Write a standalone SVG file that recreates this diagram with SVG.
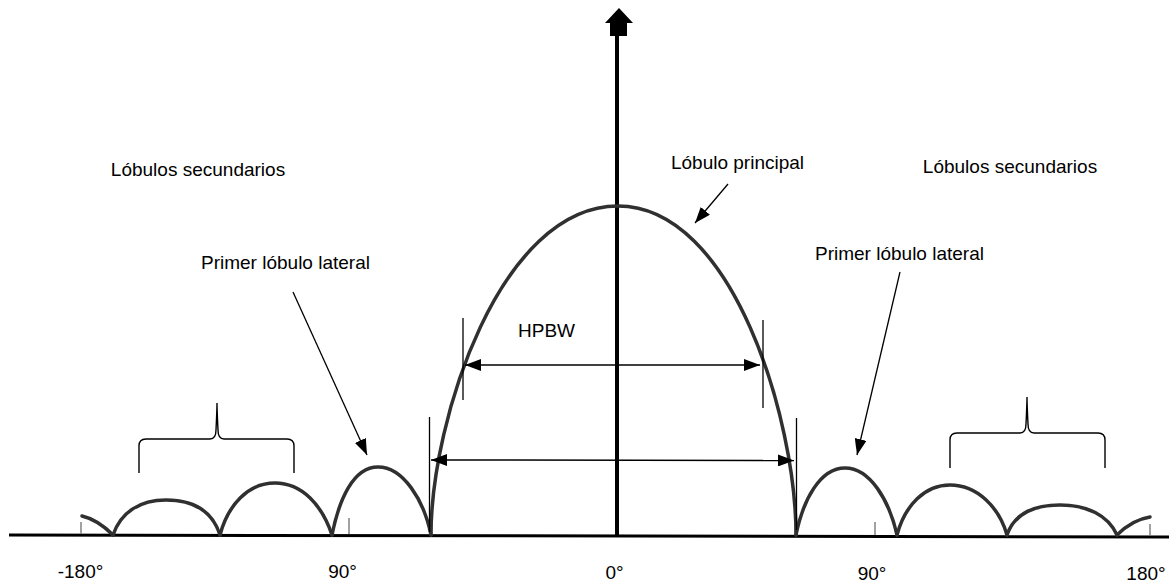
<svg xmlns="http://www.w3.org/2000/svg" width="1169" height="582" viewBox="0 0 1169 582">
<style>
text{font-family:"Liberation Sans",Arial,sans-serif;font-size:19px;fill:#000}
.lobe{fill:none;stroke:#303030;stroke-width:3.5;stroke-linejoin:round;stroke-linecap:round}
.tick{stroke:#8a8a8a;stroke-width:1.6}
.thin{stroke:#000;stroke-width:1.3;fill:none}
.dim{stroke:#000;stroke-width:1.5;fill:none}
.brace{stroke:#000;stroke-width:1.4;fill:none}
</style>
<defs>
<marker id="ah" viewBox="0 0 16 12" refX="16" refY="6" markerWidth="16" markerHeight="12" markerUnits="userSpaceOnUse" orient="auto">
<path d="M0,0 L16,6 L0,12 Z" fill="#000"/>
</marker>
<marker id="ahs" viewBox="0 0 16 12" refX="16" refY="6" markerWidth="16" markerHeight="12" markerUnits="userSpaceOnUse" orient="auto-start-reverse">
<path d="M0,0 L16,6 L0,12 Z" fill="#000"/>
</marker>
</defs>
<rect width="1169" height="582" fill="#fff"/>

<g id="axes">
<line x1="9" y1="535" x2="1169" y2="537" stroke="#000" stroke-width="3"/>
<line x1="617" y1="30" x2="617" y2="536" stroke="#000" stroke-width="4"/>
<path d="M619,8 L633,23 L627,23 L627,36 L610,36 L610,23 L605,23 Z" fill="#000"/>
<line class="tick" x1="81" y1="522" x2="81" y2="534"/>
<line class="tick" x1="349" y1="518" x2="349" y2="534"/>
<line class="tick" x1="875" y1="522" x2="875" y2="535"/>
<line class="tick" x1="1150" y1="524" x2="1150" y2="535"/>
</g>

<g id="main-lobe">
<path class="lobe" d="M431,535 C431,420 500,206 618,206 C733,206 796,420 796,535"/>
</g>

<g id="side-lobes-left">
<path class="lobe" d="M431,535 C424,500 403,467 378,467 C353,467 339,500 332,535"/>
<path class="lobe" d="M332,535 C322,505 302,483 275,483 C248,483 228,505 220,535"/>
<path class="lobe" d="M220,535 C212,510 192,500 166,500 C140,500 121,512 113,535"/>
<path class="lobe" d="M113,535 C105,527 95,519 82,516"/>
</g>

<g id="side-lobes-right">
<path class="lobe" d="M796,535 C803,500 820,468 845,468 C870,468 889,500 897,535"/>
<path class="lobe" d="M897,535 C905,505 925,485 950,485 C977,485 999,507 1007,535"/>
<path class="lobe" d="M1007,535 C1015,512 1035,505 1060,505 C1087,505 1108,515 1117,535"/>
<path class="lobe" d="M1117,535 C1125,527 1137,519 1150,517"/>
</g>

<g id="hpbw">
<line class="thin" x1="463" y1="318" x2="463" y2="400"/>
<line class="thin" x1="763" y1="320" x2="763" y2="408"/>
<line class="dim" x1="465" y1="365" x2="760" y2="365" marker-start="url(#ahs)" marker-end="url(#ah)"/>
<text x="518" y="337">HPBW</text>
</g>

<g id="fnbw">
<line class="thin" x1="429.5" y1="417" x2="429.5" y2="532"/>
<line class="thin" x1="796.5" y1="418" x2="796.5" y2="530"/>
<line class="dim" x1="431" y1="460" x2="794" y2="460.5" marker-start="url(#ahs)" marker-end="url(#ah)"/>
</g>

<g id="connectors">
<line class="thin" x1="728" y1="184" x2="695" y2="223" marker-end="url(#ah)"/>
<line class="thin" x1="293" y1="292" x2="367" y2="455" marker-end="url(#ah)"/>
<line class="thin" x1="900" y1="272" x2="857" y2="455" marker-end="url(#ah)"/>
</g>

<g id="brace-left">
<path class="brace" d="M139,473 L139,446 Q139,439 146,439 L210,439 Q216,439 216,430 Q217,410 217,403 Q217,410 218,430 Q218,439 224,439 L287,439 Q294,439 294,446 L294,473"/>
</g>
<g id="brace-right">
<path class="brace" d="M950,468 L950,440 Q950,433 957,433 L1020,433 Q1026,433 1026,424 Q1027,404 1027,397 Q1027,404 1028,424 Q1028,433 1034,433 L1098,433 Q1105,433 1105,440 L1105,468"/>
</g>

<g id="labels">
<text x="737.5" y="169" text-anchor="middle">Lóbulo principal</text>
<text x="201" y="269">Primer lóbulo lateral</text>
<text x="815" y="260">Primer lóbulo lateral</text>
<text x="198" y="176" text-anchor="middle">Lóbulos secundarios</text>
<text x="1010" y="173" text-anchor="middle">Lóbulos secundarios</text>
<text x="80.5" y="578" text-anchor="middle">-180°</text>
<text x="342.5" y="578" text-anchor="middle">90°</text>
<text x="614.5" y="579" text-anchor="middle">0°</text>
<text x="872" y="580" text-anchor="middle">90°</text>
<text x="1146" y="580" text-anchor="middle">180°</text>
</g>
</svg>
